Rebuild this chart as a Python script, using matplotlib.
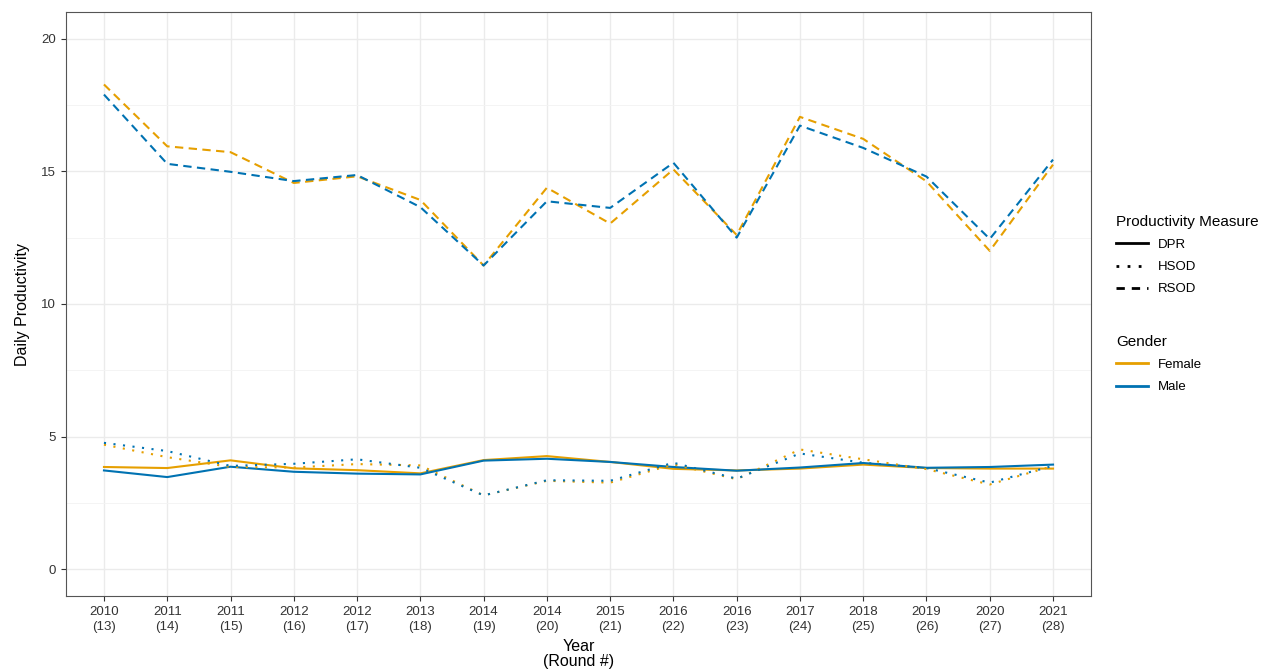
import numpy as np
import matplotlib.pyplot as plt
from matplotlib.lines import Line2D

plt.rcParams['font.family'] = ['Liberation Sans', 'DejaVu Sans']

# x categories
years  = ['2010', '2011', '2011', '2012', '2012', '2013', '2014', '2014',
          '2015', '2016', '2016', '2017', '2018', '2019', '2020', '2021']
rounds = [13, 14, 15, 16, 17, 18, 19, 20, 21, 22, 23, 24, 25, 26, 27, 28]

# DPR (solid)
dpr_female = [3.86, 3.82, 4.11, 3.81, 3.74, 3.62, 4.12, 4.27, 4.05, 3.79, 3.73,
              3.80, 3.95, 3.82, 3.80, 3.80]
dpr_male   = [3.73, 3.48, 3.87, 3.68, 3.61, 3.58, 4.10, 4.17, 4.05, 3.86, 3.72,
              3.84, 4.01, 3.83, 3.86, 3.95]
# HSOD (dotted)
hsod_female = [4.70, 4.23, 3.86, 3.84, 3.97, 3.92, 2.79, 3.34, 3.27, 3.96, 3.40,
               4.52, 4.15, 3.78, 3.20, 3.90]
hsod_male   = [4.77, 4.46, 3.90, 3.98, 4.15, 3.83, 2.79, 3.36, 3.34, 4.02, 3.42,
               4.37, 4.02, 3.82, 3.27, 3.90]
# RSOD (dashed)
rsod_female = [18.27, 15.94, 15.72, 14.56, 14.81, 13.92, 11.45, 14.38, 13.03,
               15.07, 12.60, 17.05, 16.22, 14.62, 12.00, 15.25]
rsod_male   = [17.89, 15.28, 14.98, 14.63, 14.86, 13.65, 11.45, 13.87, 13.62,
               15.32, 12.50, 16.72, 15.88, 14.80, 12.45, 15.44]

female_col = '#E69F00'
male_col = '#0072B2'
dash_style = (0, (4, 2.6))
dot_style = (0, (1, 3.6))

fig = plt.figure(figsize=(12.61, 6.71), dpi=100)
ax = fig.add_axes([66/1261, 1-596/671, (1091-66)/1261, (596-12)/671])

x = np.arange(len(years))
lw = 1.5
for vals, col in [(dpr_female, female_col), (dpr_male, male_col)]:
	ax.plot(x, vals, color=col, lw=lw, ls='-')
for vals, col in [(hsod_female, female_col), (hsod_male, male_col)]:
	ax.plot(x, vals, color=col, lw=lw, ls=dot_style)
for vals, col in [(rsod_female, female_col), (rsod_male, male_col)]:
	ax.plot(x, vals, color=col, lw=lw, ls=dash_style)

# theme_bw look
ax.set_xlim(-0.6, len(years) - 1 + 0.6)
ax.set_ylim(-1, 21)
ax.set_xticks(x)
ax.set_xticklabels([f'{y}\n({r})' for y, r in zip(years, rounds)], fontsize=9.5,
                   color='#333333', linespacing=1.4)
ax.set_yticks([0, 5, 10, 15, 20])
ax.set_yticks([2.5, 7.5, 12.5, 17.5], minor=True)
ax.tick_params(axis='y', labelsize=9.5, labelcolor='#333333')
ax.tick_params(which='major', length=3.5, width=0.8, color='#333333')
ax.tick_params(which='minor', length=0)
ax.grid(which='major', color='#EBEBEB', lw=1.0)
ax.grid(which='minor', axis='y', color='#F3F3F3', lw=0.6)
ax.set_axisbelow(True)
for s in ax.spines.values():
	s.set_color('#555555')
	s.set_linewidth(0.8)

ax.set_ylabel('Daily Productivity', fontsize=11.5, labelpad=8)
ax.set_xlabel('Year\n(Round #)', fontsize=11.5, labelpad=4, linespacing=1.0)

# legends
measure_handles = [
	Line2D([], [], color='black', lw=2, ls='-'),
	Line2D([], [], color='black', lw=2, ls=(0, (1, 3))),
	Line2D([], [], color='black', lw=2, ls=(0, (3, 2.5))),
]
leg1 = fig.legend(measure_handles, ['DPR', 'HSOD', 'RSOD'],
                  title='Productivity Measure', loc='upper left',
                  bbox_to_anchor=(1104/1261, 1-203/671), frameon=False,
                  fontsize=9.5, title_fontsize=11, handlelength=2.4,
                  labelspacing=0.75, alignment='left')
gender_handles = [
	Line2D([], [], color=female_col, lw=2),
	Line2D([], [], color=male_col, lw=2),
]
leg2 = fig.legend(gender_handles, ['Female', 'Male'], title='Gender',
                  loc='upper left', bbox_to_anchor=(1104/1261, 1-323/671),
                  frameon=False, fontsize=9.5, title_fontsize=11,
                  handlelength=2.4, labelspacing=0.75, alignment='left')

fig.savefig('out.png', dpi=100)
